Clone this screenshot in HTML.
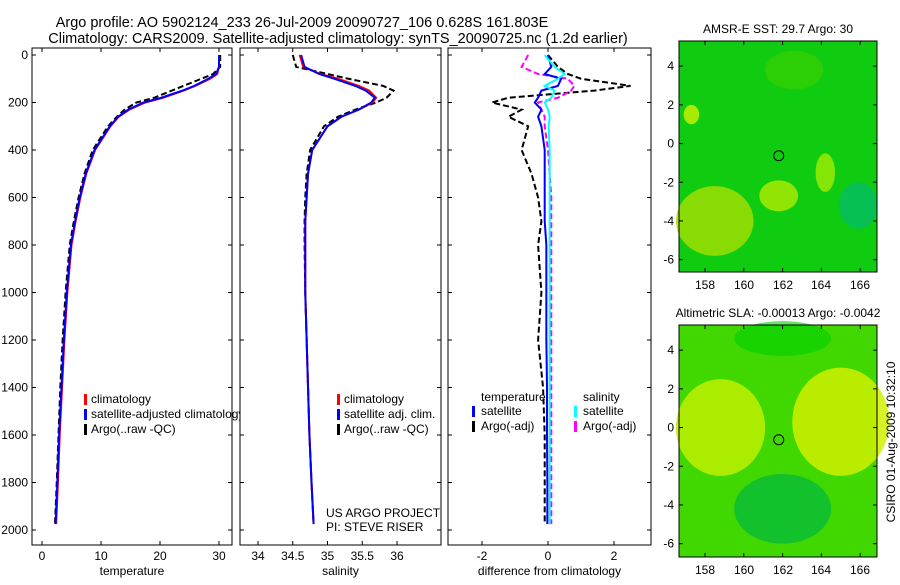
<!DOCTYPE html>
<html><head><meta charset="utf-8"><style>
body{margin:0;background:#fff;font-family:"Liberation Sans",sans-serif}
svg text{font-family:"Liberation Sans",sans-serif;font-size:12px;fill:#000}
</style></head><body>
<svg id="c" width="900" height="580" xmlns="http://www.w3.org/2000/svg">
<text x="302" y="27" text-anchor="middle" style="font-size:14.5px">Argo profile: AO 5902124_233 26-Jul-2009 20090727_106 0.628S 161.803E</text>
<text x="338" y="43" text-anchor="middle" style="font-size:14.5px">Climatology: CARS2009. Satellite-adjusted climatology: synTS_20090725.nc (1.2d earlier)</text>
<g id="g"></g>
<text transform="translate(895,442) rotate(-90)" text-anchor="middle">CSIRO 01-Aug-2009 10:32:10</text>
</svg>
<script>
const depth=[0,50,80,100,130,150,180,200,230,260,300,400,500,600,700,800,1000,1200,1400,1600,1800,1975];
const tempClim=[30,30,29.7,28.5,26,24,20.5,17.5,14.8,13,11.6,9,7.5,6.5,5.7,5,4.3,3.8,3.4,3,2.7,2.4];
const tempSat=[30,30,29.5,28.2,25.8,23.8,20.2,17.2,14.6,12.9,11.5,8.9,7.4,6.4,5.6,4.9,4.2,3.7,3.3,2.9,2.6,2.3];
const tempArgo=[30.2,30.2,29,27,24,22,19,16,14,12.7,11.2,8.6,7.2,6.2,5.4,4.7,4,3.5,3.1,2.8,2.5,2.2];
const salClim=[34.6,34.65,34.9,35.15,35.45,35.6,35.7,35.65,35.45,35.2,35.0,34.78,34.72,34.7,34.68,34.68,34.68,34.7,34.72,34.74,34.77,34.8];
const salSat=[34.62,34.67,34.88,35.1,35.4,35.55,35.68,35.63,35.45,35.2,35.0,34.78,34.72,34.7,34.68,34.68,34.68,34.7,34.72,34.74,34.77,34.8];
const salArgo=[34.5,34.55,35.0,35.3,35.8,35.95,35.85,35.7,35.4,35.15,34.95,34.75,34.7,34.68,34.67,34.67,34.68,34.7,34.72,34.74,34.77,34.8];
const dTempSat=[0,0.1,-0.1,0.4,0.3,-0.2,-0.3,-0.4,-0.2,-0.3,-0.2,-0.1,-0.1,-0.1,-0.1,-0.05,-0.05,-0.05,-0.03,-0.03,-0.02,-0.02];
const dTempArgo=[0,0.3,0.6,1.0,2.5,1.4,-1.2,-1.7,-0.8,-1.2,-0.6,-0.8,-0.5,-0.3,-0.2,-0.3,-0.2,-0.3,-0.15,-0.1,-0.1,-0.1];
const dSalSat=[-0.1,0.2,0.5,0.3,-0.1,0.2,0.1,-0.1,0,0.05,0.02,0.05,0.05,0.05,0.05,0.05,0.05,0.05,0.05,0.05,0.05,0.05];
const dSalArgo=[-0.6,-0.8,-0.3,0.6,0.8,0.7,0.3,-0.3,-0.2,-0.1,-0.1,0,0.05,0.1,0.1,0.1,0.1,0.1,0.1,0.1,0.1,0.1];
const yTicks=[0,200,400,600,800,1000,1200,1400,1600,1800,2000];
const NS="http://www.w3.org/2000/svg",G=document.getElementById('g');
function el(t,a,p){const e=document.createElementNS(NS,t);for(const k in a)e.setAttribute(k,a[k]);(p||G).appendChild(e);return e}
const Y=d=>55+d*0.2375;
function panel(name,x0,x1,xs,ticks,xlabel,series,fmt){
 const sx=v=>xs[0]+(v-xs[1])*xs[2];
 const g=el('g',{});
 
 
 el('rect',{x:x0,y:48,width:x1-x0,height:497,fill:'#fff',stroke:'#000'},g);
 yTicks.forEach(d=>{el('line',{x1:x0,x2:x0+4,y1:Y(d),y2:Y(d),stroke:'#000'},g);el('line',{x1:x1-4,x2:x1,y1:Y(d),y2:Y(d),stroke:'#000'},g);});
 ticks.forEach(v=>{const x=sx(v);el('line',{x1:x,x2:x,y1:545,y2:541,stroke:'#000'},g);el('line',{x1:x,x2:x,y1:48,y2:52,stroke:'#000'},g);
  const t=el('text',{x:x,y:560,'text-anchor':'middle'},g);t.textContent=fmt?fmt(v):v;});
 const l=el('text',{x:(x0+x1)/2,y:575,'text-anchor':'middle'},g);l.textContent=xlabel;
 series.forEach(s=>{const p=el('polyline',{points:s.v.map((v,i)=>sx(v)+','+Y(depth[i])).join(' '),fill:'none',stroke:s.c,'stroke-width':s.w||2,'stroke-dasharray':s.d||''},g);
  
  });
 return g;
}
const tx=(g,x,y,s,a)=>{const t=el('text',Object.assign({x:x,y:y},a||{}),g);t.textContent=s;return t};
const mark=(g,x,y,c)=>el('rect',{x:x,y:y-9,width:3,height:11,fill:c},g);
yTicks.forEach(d=>tx(G,28,Y(d)+4,d,{'text-anchor':'end'}));
let p1=panel('temperature-panel',32,232,[42,0,5.9],[0,10,20,30],'temperature',[{v:tempArgo,c:'#000',d:'6,3',n:'temp-argo-line'},{v:tempClim,c:'#f00',n:'temp-clim-line'},{v:tempSat,c:'#00f',n:'temp-sat-line'}]);
mark(p1,84,403,'#f00');tx(p1,91,403,'climatology');mark(p1,84,418,'#00f');tx(p1,91,418,'satellite-adjusted climatology');mark(p1,84,433,'#000');tx(p1,91,433,'Argo(..raw -QC)');
let p2=panel('salinity-panel',240,441,[258,34,69.5],[34,34.5,35,35.5,36],'salinity',[{v:salArgo,c:'#000',d:'6,3',n:'sal-argo-line'},{v:salClim,c:'#f00',n:'sal-clim-line'},{v:salSat,c:'#00f',n:'sal-sat-line'}]);
mark(p2,337,403,'#f00');tx(p2,344,403,'climatology');mark(p2,337,418,'#00f');tx(p2,344,418,'satellite adj. clim.');mark(p2,337,433,'#000');tx(p2,344,433,'Argo(..raw -QC)');
tx(p2,326,517,'US ARGO PROJECT');tx(p2,326,531,'PI: STEVE RISER');
let p3=panel('difference-panel',448,651,[548,0,33],[-2,0,2],'difference from climatology',[{v:dTempArgo,c:'#000',d:'6,3',n:'dtemp-argo-line'},{v:dSalArgo,c:'#f0f',d:'6,3',n:'dsal-argo-line'},{v:dTempSat,c:'#00f',n:'dtemp-sat-line'},{v:dSalSat,c:'#0ff',n:'dsal-sat-line'}]);
tx(p3,481,401,'temperature');tx(p3,583,401,'salinity');mark(p3,472,415,'#00f');tx(p3,481,415,'satellite');mark(p3,574,415,'#0ff');tx(p3,583,415,'satellite');mark(p3,472,430,'#000');tx(p3,481,430,'Argo(-adj)');mark(p3,574,430,'#f0f');tx(p3,583,430,'Argo(-adj)');
function map(name,y0,y1,title,blobs,base){
 const g=el('g',{});
 
 
 const my=v=>y0+ (5.3-v)*19.35, mx=v=>705+(v-158)*19.4;
 el('rect',{x:679,y:y0,width:198,height:y1-y0,fill:base},g);
 blobs.forEach(b=>el('ellipse',{cx:mx(b[0]),cy:my(b[1]),rx:b[2]*19.4,ry:b[3]*19.35,fill:b[4],opacity:b[5]},g));
 el('rect',{x:679,y:y0,width:198,height:y1-y0,fill:'none',stroke:'#000'},g);
 [4,2,0,-2,-4,-6].forEach(v=>{el('line',{x1:679,x2:683,y1:my(v),y2:my(v),stroke:'#000'},g);el('line',{x1:873,x2:877,y1:my(v),y2:my(v),stroke:'#000'},g);tx(g,674,my(v)+4,v,{'text-anchor':'end'});});
 [158,160,162,164,166].forEach(v=>{el('line',{x1:mx(v),x2:mx(v),y1:y1,y2:y1-4,stroke:'#000'},g);el('line',{x1:mx(v),x2:mx(v),y1:y0,y2:y0+4,stroke:'#000'},g);});
 el('circle',{cx:mx(161.8),cy:my(-0.63),r:5,fill:'none',stroke:'#000'},g);
 tx(g,778,y0-8,title,{'text-anchor':'middle'});
 return g;
}
map('sst-map',41,272,'AMSR-E SST: 29.7 Argo: 30',[[158.5,-4,2,1.8,'#a8e000',0.8],[161.8,-2.7,1,0.8,'#c8f000',0.7],[164.2,-1.5,0.5,1,'#b8f000',0.7],[165.9,-3.2,1,1.2,'#00b880',0.6],[162.6,3.8,1.5,1,'#40d000',0.6],[157.3,1.5,0.4,0.5,'#d0f000',0.8]],'#10cc10');
map('sla-map',325,557,'Altimetric SLA: -0.00013 Argo: -0.0042',[[158.8,0,2.3,2.5,'#c0f000',0.85],[165,0.3,2.5,2.8,'#d0f000',0.85],[162,-4.2,2.5,1.8,'#00b840',0.7],[162,4.6,2.5,0.9,'#00d000',0.6]],'#40d800');
const mt=el('g',{});
[['158',705],['160',744],['162',783],['164',821],['166',860]].forEach(a=>{tx(mt,a[1],574,a[0],{'text-anchor':'middle'});tx(mt,a[1],289,a[0],{'text-anchor':'middle'});});
</script>
</body></html>
